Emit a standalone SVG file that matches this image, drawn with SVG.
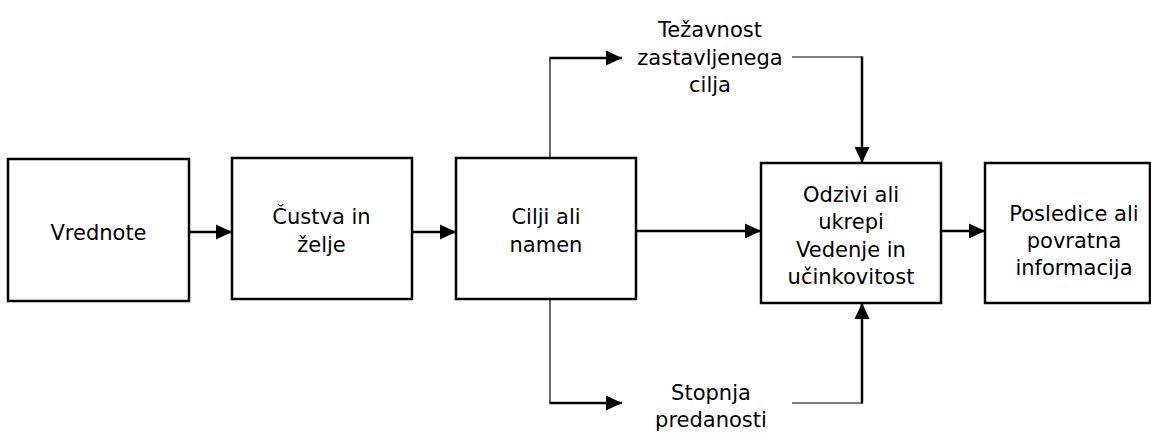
<svg xmlns="http://www.w3.org/2000/svg" width="1151" height="433" viewBox="0 0 1151 433">
  <style>
    .box { fill: #ffffff; stroke: #000000; stroke-width: 2.5; }
    .lbl { font-family: "DejaVu Sans", Verdana, sans-serif; font-size: 21px; fill: #000000; text-anchor: middle; }
    .thick { fill: none; stroke: #000000; stroke-width: 2.5; }
    .thin { fill: none; stroke: #000000; stroke-width: 1.2; }
  </style>
  <defs>
    <marker id="arrow" markerUnits="userSpaceOnUse" markerWidth="17" markerHeight="16" viewBox="0 0 17 16" refX="16" refY="8" orient="auto">
      <path d="M0,0.5 L16,8 L0,15.5 Z" fill="#000000"/>
    </marker>
  </defs>
  <rect width="1151" height="433" fill="#ffffff"/>

  <g id="connectors">
    <line class="thick" x1="189" y1="232" x2="232" y2="232" marker-end="url(#arrow)"/>
    <line class="thick" x1="412" y1="232" x2="456" y2="232" marker-end="url(#arrow)"/>
    <line class="thick" x1="636" y1="231" x2="761" y2="231" marker-end="url(#arrow)"/>
    <line class="thick" x1="941" y1="231" x2="985" y2="231" marker-end="url(#arrow)"/>
    <!-- branch up to goal difficulty -->
    <line class="thin" x1="550" y1="158" x2="550" y2="57.5"/>
    <line class="thick" x1="549.5" y1="58" x2="622" y2="58" marker-end="url(#arrow)"/>
    <!-- goal difficulty into responses -->
    <line class="thin" x1="792" y1="57" x2="862" y2="57"/>
    <line class="thick" x1="862" y1="56.5" x2="862" y2="163" marker-end="url(#arrow)"/>
    <!-- branch down to commitment -->
    <line class="thin" x1="550" y1="299" x2="550" y2="403.5"/>
    <line class="thick" x1="549.5" y1="403" x2="622" y2="403" marker-end="url(#arrow)"/>
    <!-- commitment into responses -->
    <line class="thin" x1="792" y1="403" x2="862" y2="403"/>
    <line class="thick" x1="862" y1="403.5" x2="862" y2="303" marker-end="url(#arrow)"/>
  </g>

  <g id="vrednote">
    <rect class="box" x="8" y="159" width="181" height="142"/>
    <text class="lbl" x="98.5" y="240">Vrednote</text>
  </g>

  <g id="custva">
    <rect class="box" x="232" y="158" width="180" height="141"/>
    <text class="lbl" x="321.5" y="224">Čustva in</text>
    <text class="lbl" x="321.5" y="251.5">želje</text>
  </g>

  <g id="cilji">
    <rect class="box" x="456" y="158" width="180" height="141"/>
    <text class="lbl" x="546" y="224">Cilji ali</text>
    <text class="lbl" x="546" y="251.5">namen</text>
  </g>

  <g id="odzivi">
    <rect class="box" x="761" y="163" width="180" height="140"/>
    <text class="lbl" x="851" y="201.5">Odzivi ali</text>
    <text class="lbl" x="851" y="229">ukrepi</text>
    <text class="lbl" x="851" y="256.5">Vedenje in</text>
    <text class="lbl" x="851" y="284">učinkovitost</text>
  </g>

  <g id="posledice">
    <rect class="box" x="985" y="163" width="165" height="140"/>
    <text class="lbl" x="1074" y="221">Posledice ali</text>
    <text class="lbl" x="1074" y="248">povratna</text>
    <text class="lbl" x="1074" y="275">informacija</text>
  </g>

  <g id="tezavnost">
    <text class="lbl" x="710" y="37">Težavnost</text>
    <text class="lbl" x="710" y="64.5">zastavljenega</text>
    <text class="lbl" x="710" y="92">cilja</text>
  </g>

  <g id="stopnja">
    <text class="lbl" x="711" y="400">Stopnja</text>
    <text class="lbl" x="711" y="427">predanosti</text>
  </g>
</svg>
